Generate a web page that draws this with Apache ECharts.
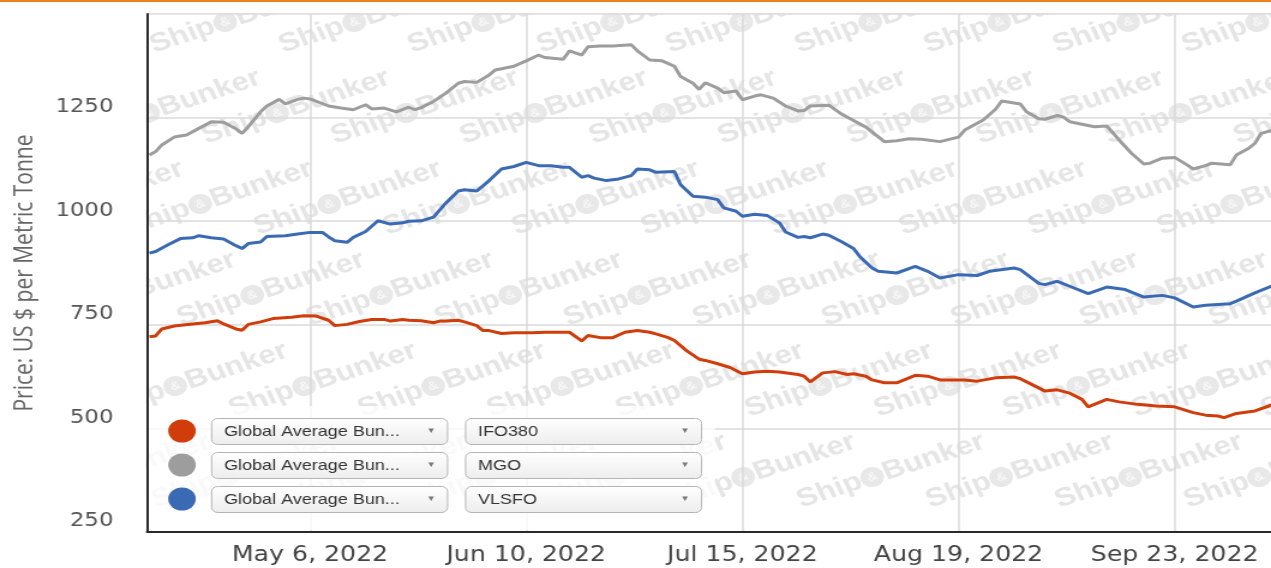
<!DOCTYPE html>
<html>
<head>
<meta charset="utf-8">
<script src="https://cdn.jsdelivr.net/npm/echarts@6/dist/echarts.min.js"></script>
<style>
	html, body { margin: 0; padding: 0; background: #fff; overflow: hidden; }
	#chart { width: 1059px; height: 568px; transform-origin: 0 0; }
</style>
</head>
<body>
<div id="chart"></div>
<script>
// Global average bunker prices, US $ per metric tonne
const ifo380 = [
	["2022-04-10", 721], ["2022-04-11", 723], ["2022-04-12", 740], ["2022-04-14", 747], ["2022-04-17", 752],
	["2022-04-19", 755], ["2022-04-21", 760], ["2022-04-22", 752], ["2022-04-24", 740], ["2022-04-25", 737],
	["2022-04-26", 751], ["2022-04-28", 757], ["2022-04-30", 765], ["2022-05-03", 768], ["2022-05-05", 772],
	["2022-05-07", 771], ["2022-05-09", 761], ["2022-05-10", 748], ["2022-05-12", 751], ["2022-05-14", 758],
	["2022-05-16", 763], ["2022-05-18", 763], ["2022-05-19", 759], ["2022-05-21", 763], ["2022-05-22", 761],
	["2022-05-24", 760], ["2022-05-26", 755], ["2022-05-27", 759], ["2022-05-28", 759], ["2022-05-30", 761],
	["2022-05-31", 757], ["2022-06-02", 748], ["2022-06-03", 736], ["2022-06-04", 736], ["2022-06-06", 729],
	["2022-06-08", 731], ["2022-06-11", 731], ["2022-06-13", 732], ["2022-06-17", 732], ["2022-06-19", 711],
	["2022-06-20", 724], ["2022-06-22", 719], ["2022-06-24", 719], ["2022-06-26", 732], ["2022-06-28", 736],
	["2022-06-30", 732], ["2022-07-01", 728], ["2022-07-03", 719], ["2022-07-04", 712], ["2022-07-06", 687],
	["2022-07-08", 667], ["2022-07-09", 664], ["2022-07-11", 656], ["2022-07-13", 647], ["2022-07-15", 632],
	["2022-07-17", 636], ["2022-07-19", 638], ["2022-07-21", 636], ["2022-07-24", 630], ["2022-07-25", 626],
	["2022-07-26", 612], ["2022-07-28", 634], ["2022-07-30", 637], ["2022-08-01", 630], ["2022-08-02", 632],
	["2022-08-04", 626], ["2022-08-05", 617], ["2022-08-07", 610], ["2022-08-09", 610], ["2022-08-12", 628],
	["2022-08-14", 626], ["2022-08-16", 617], ["2022-08-20", 617], ["2022-08-22", 614], ["2022-08-25", 622],
	["2022-08-28", 624], ["2022-08-29", 620], ["2022-08-31", 605], ["2022-09-02", 590], ["2022-09-04", 593],
	["2022-09-06", 585], ["2022-09-08", 570], ["2022-09-09", 552], ["2022-09-12", 570], ["2022-09-14", 564],
	["2022-09-17", 558], ["2022-09-20", 554], ["2022-09-23", 552], ["2022-09-26", 538], ["2022-09-28", 532],
	["2022-09-30", 530], ["2022-10-01", 526], ["2022-10-03", 536], ["2022-10-06", 542], ["2022-10-09", 558],
];

const mgo = [
	["2022-04-10", 1160], ["2022-04-11", 1168], ["2022-04-12", 1184], ["2022-04-14", 1203], ["2022-04-16", 1208],
	["2022-04-18", 1224], ["2022-04-20", 1240], ["2022-04-22", 1239], ["2022-04-24", 1223], ["2022-04-25", 1212],
	["2022-04-26", 1228], ["2022-04-28", 1264], ["2022-04-29", 1278], ["2022-05-01", 1294], ["2022-05-02", 1283],
	["2022-05-04", 1294], ["2022-05-05", 1297], ["2022-05-06", 1295], ["2022-05-09", 1278], ["2022-05-11", 1273],
	["2022-05-13", 1269], ["2022-05-15", 1281], ["2022-05-16", 1271], ["2022-05-18", 1273], ["2022-05-20", 1264],
	["2022-05-22", 1275], ["2022-05-23", 1269], ["2022-05-24", 1274], ["2022-05-26", 1289], ["2022-05-28", 1309],
	["2022-05-30", 1333], ["2022-05-31", 1337], ["2022-06-02", 1335], ["2022-06-04", 1353], ["2022-06-05", 1365],
	["2022-06-08", 1374], ["2022-06-10", 1387], ["2022-06-12", 1401], ["2022-06-13", 1395], ["2022-06-16", 1391],
	["2022-06-17", 1411], ["2022-06-19", 1401], ["2022-06-20", 1421], ["2022-06-22", 1423], ["2022-06-24", 1423],
	["2022-06-27", 1426], ["2022-06-28", 1411], ["2022-06-30", 1389], ["2022-07-02", 1387], ["2022-07-04", 1374],
	["2022-07-05", 1349], ["2022-07-07", 1333], ["2022-07-08", 1318], ["2022-07-09", 1334], ["2022-07-11", 1321],
	["2022-07-12", 1310], ["2022-07-14", 1314], ["2022-07-15", 1293], ["2022-07-17", 1302], ["2022-07-18", 1305],
	["2022-07-20", 1297], ["2022-07-22", 1278], ["2022-07-24", 1266], ["2022-07-25", 1267], ["2022-07-26", 1278],
	["2022-07-29", 1280], ["2022-07-31", 1259], ["2022-08-02", 1243], ["2022-08-04", 1227], ["2022-08-07", 1192],
	["2022-08-09", 1194], ["2022-08-11", 1199], ["2022-08-13", 1198], ["2022-08-16", 1192], ["2022-08-19", 1203],
	["2022-08-20", 1220], ["2022-08-23", 1244], ["2022-08-25", 1270], ["2022-08-26", 1290], ["2022-08-29", 1283],
	["2022-08-30", 1264], ["2022-09-01", 1247], ["2022-09-02", 1246], ["2022-09-04", 1255], ["2022-09-05", 1251],
	["2022-09-06", 1240], ["2022-09-08", 1234], ["2022-09-10", 1228], ["2022-09-12", 1230], ["2022-09-14", 1196],
	["2022-09-16", 1164], ["2022-09-18", 1138], ["2022-09-19", 1140], ["2022-09-21", 1152], ["2022-09-23", 1154],
	["2022-09-25", 1136], ["2022-09-26", 1126], ["2022-09-28", 1134], ["2022-09-29", 1140], ["2022-10-02", 1136],
	["2022-10-03", 1160], ["2022-10-05", 1176], ["2022-10-06", 1188], ["2022-10-07", 1212], ["2022-10-09", 1220],
];

const vlsfo = [
	["2022-04-10", 923], ["2022-04-11", 927], ["2022-04-13", 943], ["2022-04-15", 958], ["2022-04-17", 960],
	["2022-04-18", 965], ["2022-04-20", 960], ["2022-04-22", 957], ["2022-04-24", 941], ["2022-04-25", 934],
	["2022-04-26", 946], ["2022-04-28", 950], ["2022-04-29", 963], ["2022-05-02", 965], ["2022-05-04", 969],
	["2022-05-06", 973], ["2022-05-08", 973], ["2022-05-09", 962], ["2022-05-10", 953], ["2022-05-12", 949],
	["2022-05-13", 961], ["2022-05-15", 975], ["2022-05-17", 1001], ["2022-05-19", 993], ["2022-05-21", 996],
	["2022-05-22", 1000], ["2022-05-24", 1001], ["2022-05-26", 1010], ["2022-05-28", 1044], ["2022-05-30", 1073],
	["2022-05-31", 1076], ["2022-06-02", 1073], ["2022-06-04", 1098], ["2022-06-06", 1126], ["2022-06-08", 1132],
	["2022-06-10", 1142], ["2022-06-12", 1134], ["2022-06-14", 1134], ["2022-06-16", 1130], ["2022-06-17", 1130],
	["2022-06-19", 1106], ["2022-06-20", 1110], ["2022-06-21", 1104], ["2022-06-23", 1098], ["2022-06-25", 1102],
	["2022-06-27", 1110], ["2022-06-28", 1126], ["2022-06-30", 1124], ["2022-07-01", 1118], ["2022-07-04", 1120],
	["2022-07-05", 1088], ["2022-07-07", 1060], ["2022-07-09", 1058], ["2022-07-11", 1052], ["2022-07-12", 1032],
	["2022-07-14", 1024], ["2022-07-15", 1012], ["2022-07-17", 1017], ["2022-07-19", 1014], ["2022-07-21", 996],
	["2022-07-22", 974], ["2022-07-24", 961], ["2022-07-25", 963], ["2022-07-26", 960], ["2022-07-28", 969],
	["2022-07-29", 966], ["2022-07-31", 951], ["2022-08-02", 934], ["2022-08-03", 915], ["2022-08-05", 887],
	["2022-08-06", 879], ["2022-08-09", 875], ["2022-08-12", 891], ["2022-08-14", 879], ["2022-08-16", 863],
	["2022-08-19", 871], ["2022-08-22", 869], ["2022-08-24", 879], ["2022-08-28", 887], ["2022-08-29", 883],
	["2022-09-01", 850], ["2022-09-02", 847], ["2022-09-04", 855], ["2022-09-06", 843], ["2022-09-09", 825],
	["2022-09-12", 841], ["2022-09-15", 835], ["2022-09-18", 817], ["2022-09-21", 821], ["2022-09-23", 815],
	["2022-09-26", 793], ["2022-09-28", 797], ["2022-10-02", 801], ["2022-10-03", 807], ["2022-10-06", 827],
	["2022-10-09", 845],
];

const seriesNames = ["IFO380", "MGO", "VLSFO"];
const seriesColors = ["#d03c0a", "#9d9d9d", "#3b6ab4"];
const regionLabel = "Global Average Bun...";
const xTickDates = ["2022-05-06", "2022-06-10", "2022-07-15", "2022-08-19", "2022-09-23"];
const yTicks = [250, 500, 750, 1000, 1250, 1500];

const months = ["Jan", "Feb", "Mar", "Apr", "May", "Jun", "Jul", "Aug", "Sep", "Oct", "Nov", "Dec"];
const origin = Date.parse("2022-04-01");
const dayOf = (s) => (Date.parse(s) - origin) / 864e5;
const fmtDay = (v) => {
	const d = new Date(origin + Math.round(v) * 864e5);
	return `${months[d.getUTCMonth()]} ${d.getUTCDate()}, ${d.getUTCFullYear()}`;
};
const toPoints = (arr) => arr.map(p => [dayOf(p[0]), p[1]]);

// the original picture is stretched sideways, so the chart is drawn narrower and scaled back out
const W = 1059;
const SX = 1271 / W;
const el = document.getElementById("chart");
el.style.transform = `scaleX(${SX})`;
const px = (v) => v / SX;

const chart = echarts.init(el, null, { renderer: "canvas", width: W, height: 568 });

// plot box, in picture pixels
const box = { left: 147, top: 14, right: 1271, bottom: 532 };

// faint ShipBunker watermark tiles (z 1), trimmed to the plot by white masks (z 2)
const watermarks = [];
for (let k = -1; k < 6; k++)
	for (let j = -4; j < 10; j++) {
		const ax = 151 + 52 * k + 129 * j;
		const ay = 46 + 91 * k;
		if (ax + 170 < box.left || ay + 14 < box.top || ay + 14 > box.bottom || ax > box.right)
			continue;
		watermarks.push({
			type     : "text",
			x        : px(ax),
			y        : ay,
			rotation : 0.37,
			z        : 1,
			silent   : true,
			style    : {
				text          : "{a|Ship}{b|&}{a|Bunker}",
				verticalAlign : "middle",
				rich          : {
					a: {
						fontFamily : "Liberation Sans",
						fontWeight : "bold",
						fontSize   : 26,
						fill       : "#e5e5e5",
					},
					b: {
						fontFamily      : "Liberation Sans",
						fontWeight      : "bold",
						fontSize        : 12,
						fill            : "#f7f7f7",
						backgroundColor : "#e8e8e8",
						borderRadius    : 10,
						width           : 20,
						height          : 20,
						align           : "center",
					},
				},
			},
		});
	}
const masks = [
	{ x: 0, y: 0, width: W, height: box.top - 0.8 },
	{ x: 0, y: 0, width: px(box.left - 1), height: 568 },
].map(shape => ({ type: "rect", z: 2, silent: true, shape, style: { fill: "#fff" } }));

// legend panel, drawn like the dropdown selector of the original page
const legendItems = [];
legendItems.push({
	type   : "rect",
	z      : 20,
	silent : true,
	shape  : { x: px(149), y: 406, width: px(566), height: 124 },
	style  : { fill: "rgba(255,255,255,0.78)" },
});
const dropFill = {
	type       : "linear",
	x          : 0,
	y          : 0,
	x2         : 0,
	y2         : 1,
	colorStops : [{ offset: 0, color: "#ffffff" }, { offset: 1, color: "#ededed" }],
};
seriesNames.forEach((name, i) => {
	const top = 418 + i * 34;
	legendItems.push({
		type  : "circle",
		z     : 21,
		shape : { cx: px(182), cy: top + 13, r: 11.5 },
		style : { fill: seriesColors[i] },
	});
	[[211, regionLabel], [465, name]].forEach(([x, label]) => {
		legendItems.push({
			type  : "rect",
			z     : 21,
			shape : { x: px(x) + 0.5, y: top + 0.5, width: px(236), height: 26, r: 5 },
			style : { fill: dropFill, stroke: "#b4b4b4", lineWidth: 1 },
		});
		legendItems.push({
			type  : "text",
			z     : 22,
			x     : px(x + 13),
			y     : top + 14,
			style : {
				text          : label,
				fontFamily    : "Liberation Sans",
				fontSize      : 15,
				fill          : "#333",
				verticalAlign : "middle",
			},
		});
		legendItems.push({
			type  : "text",
			z     : 22,
			x     : px(x + 220),
			y     : top + 13,
			style : {
				text          : "▼",
				fontSize      : 8,
				fill          : "#777",
				align         : "center",
				verticalAlign : "middle",
			},
		});
	});
});

chart.setOption({
	animation : false,
	grid      : {
		left   : px(box.left),
		top    : box.top,
		right  : 0,
		bottom : 568 - box.bottom,
	},
	xAxis: {
		type     : "value",
		z        : 5,
		min      : 8.6,
		max      : 190.6,
		axisLine : {
			show      : true,
			onZero    : false,
			lineStyle : { color: "#2a2a2a", width: 2 },
		},
		axisTick: {
			show         : false,
			customValues : xTickDates.map(dayOf),
		},
		splitLine: {
			show      : true,
			lineStyle : { color: "#dadada", width: 1.5 },
		},
		axisLabel: {
			customValues : xTickDates.map(dayOf),
			formatter    : fmtDay,
			fontFamily   : "DejaVu Sans",
			fontSize     : 21,
			color        : "#444",
			margin       : 13,
			hideOverlap  : false,
		},
	},
	yAxis: {
		type          : "value",
		z             : 5,
		min           : yTicks[0],
		max           : yTicks[yTicks.length - 1],
		interval      : 250,
		name          : "Price: US $ per Metric Tonne",
		nameLocation  : "middle",
		nameGap       : 91,
		nameTextStyle : {
			fontFamily : "Open Sans",
			fontSize   : 21,
			color      : "#666",
		},
		axisLine: {
			show      : true,
			lineStyle : { color: "#2a2a2a", width: 2 },
		},
		axisTick  : { show: false },
		splitLine : {
			show      : true,
			lineStyle : { color: "#dadada", width: 1.5 },
		},
		axisLabel: {
			formatter     : v => (v === yTicks[yTicks.length - 1] ? "" : String(v)),
			fontFamily    : "DejaVu Sans",
			fontSize      : 19,
			color         : "#555",
			margin        : 28,
			verticalAlign : "bottom",
			padding       : [0, 0, 1, 0],
		},
	},
	graphic: [
		...watermarks,
		...masks,
		{
			type   : "rect",
			z      : 3,
			silent : true,
			shape  : { x: 0, y: 0, width: W, height: 2 },
			style  : { fill: "#f0821e" },
		},
		...legendItems,
	],
	series: [
		{
			name       : seriesNames[1],
			type       : "line",
			data       : toPoints(mgo),
			showSymbol : false,
			z          : 6,
			lineStyle  : { color: seriesColors[1], width: 3 },
			itemStyle  : { color: seriesColors[1] },
		},
		{
			name       : seriesNames[2],
			type       : "line",
			data       : toPoints(vlsfo),
			showSymbol : false,
			z          : 6,
			lineStyle  : { color: seriesColors[2], width: 3 },
			itemStyle  : { color: seriesColors[2] },
		},
		{
			name       : seriesNames[0],
			type       : "line",
			data       : toPoints(ifo380),
			showSymbol : false,
			z          : 6,
			lineStyle  : { color: seriesColors[0], width: 3 },
			itemStyle  : { color: seriesColors[0] },
		},
	],
});
</script>
</body>
</html>
